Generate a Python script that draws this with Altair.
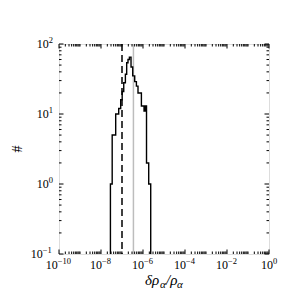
import altair as alt
import pandas as pd

# ---- data ----
BIN_EDGES = [2.81e-8, 3.41e-8, 5.01e-8, 6.97e-8, 8.67e-8, 1.02e-7, 1.21e-7, 1.45e-7,
             1.67e-7, 1.93e-7, 2.25e-7, 2.69e-7, 3.24e-7, 4.03e-7, 4.85e-7, 5.78e-7,
             8.39e-7, 1.12e-6, 1.27e-6, 1.47e-6, 1.87e-6, 2.33e-6]
COUNTS = [1, 5, 10, 12, 16, 21, 28, 37, 54, 60, 65, 47, 35, 29, 25, 20, 13, 11, 13, 2, 1]
DASHED_X = [1.0e-7]
GREY_X = [3.5e-7]

X_DOMAIN = [1e-10, 1.0]
Y_DOMAIN = [0.1, 100.0]
Y_FLOOR = 0.1  # zero counts drawn at the bottom of the log axis

X_MAJOR = [1e-10, 1e-8, 1e-6, 1e-4, 1e-2, 1.0]
X_EXP_TEXT = ["−10", "−8", "−6", "−4", "−2", "0"]
Y_MAJOR = [0.1, 1.0, 10.0, 100.0]
Y_EXP_TEXT = ["−1", "0", "1", "2"]
BASE_TEXT = "10"
X_MINOR = [m * 10.0 ** e for e in range(-10, 0) for m in range(2, 10)] + \
          [10.0 ** e for e in (-9, -7, -5, -3, -1)]
Y_MINOR = [m * 10.0 ** e for e in range(-1, 2) for m in range(2, 10)]

X_TITLE_PARTS = ["δρ", "α", "/ρ", "α"]
Y_TITLE = "#"

W, H = 210, 210
FONT = "Liberation Serif"
BASE_FS, EXP_FS = 12, 8.5

xscale = alt.Scale(type="log", domain=X_DOMAIN, nice=False)
yscale = alt.Scale(type="log", domain=Y_DOMAIN, nice=False)


def X(field):
    return alt.X(field, scale=xscale, axis=None)


def Y(field):
    return alt.Y(field, scale=yscale, axis=None)


# ---- histogram outline ----
xs = [BIN_EDGES[0]] + BIN_EDGES[:len(COUNTS)] + [BIN_EDGES[-1]]
ys = [Y_FLOOR] + COUNTS + [Y_FLOOR]
hist = pd.DataFrame({"x": xs, "y": ys, "o": list(range(len(xs)))})

line = alt.Chart(hist).mark_line(
    color="black", strokeWidth=1.4, interpolate="step-after").encode(
    x=X("x:Q"), y=Y("y:Q"), order="o:Q")

grey = alt.Chart(pd.DataFrame({"v": GREY_X})).mark_rule(
    color="#bdbdbd", strokeWidth=1.5).encode(x=X("v:Q"))
dashed = alt.Chart(pd.DataFrame({"v": DASHED_X})).mark_rule(
    color="black", strokeWidth=1.5, strokeDash=[7, 4]).encode(x=X("v:Q"))


# ---- inward ticks on all four sides ----
def xticks(vals, length):
    base = alt.Chart(pd.DataFrame({"v": vals})).mark_rule(color="black", strokeWidth=1)
    return [base.encode(x=X("v:Q"), y=alt.value(H), y2=alt.value(H - length)),
            base.encode(x=X("v:Q"), y=alt.value(0), y2=alt.value(length))]


def yticks(vals, length):
    base = alt.Chart(pd.DataFrame({"v": vals})).mark_rule(color="black", strokeWidth=1)
    return [base.encode(y=Y("v:Q"), x=alt.value(0), x2=alt.value(length)),
            base.encode(y=Y("v:Q"), x=alt.value(W), x2=alt.value(W - length))]


ticks = xticks(X_MAJOR, 4.5) + xticks(X_MINOR, 2.5) + yticks(Y_MAJOR, 4.5) + yticks(Y_MINOR, 2.5)


# ---- tick labels 10^n (base + raised exponent) ----
def est_w(s, fs):
    w = 0.0
    for ch in s:
        w += 0.70 * fs if ch == "−" else 0.5 * fs
    return w


label_layers = []
wb = est_w(BASE_TEXT, BASE_FS)
for v, e in zip(X_MAJOR, X_EXP_TEXT):
    we = est_w(e, EXP_FS)
    split = (wb - we) / 2.0
    df = pd.DataFrame({"v": [v], "b": [BASE_TEXT], "e": [e]})
    label_layers.append(alt.Chart(df).mark_text(
        font=FONT, fontSize=BASE_FS, align="right", baseline="alphabetic",
        color="black", dx=split, dy=0).encode(
        x=X("v:Q"), y=alt.value(H + 15), text="b:N"))
    label_layers.append(alt.Chart(df).mark_text(
        font=FONT, fontSize=EXP_FS, align="left", baseline="alphabetic",
        color="black", dx=split, dy=0).encode(
        x=X("v:Q"), y=alt.value(H + 10), text="e:N"))

for v, e in zip(Y_MAJOR, Y_EXP_TEXT):
    we = est_w(e, EXP_FS)
    df = pd.DataFrame({"v": [v], "b": [BASE_TEXT], "e": [e]})
    label_layers.append(alt.Chart(df).mark_text(
        font=FONT, fontSize=BASE_FS, align="right", baseline="alphabetic",
        color="black", dx=0, dy=4).encode(
        y=Y("v:Q"), x=alt.value(-6 - we), text="b:N"))
    label_layers.append(alt.Chart(df).mark_text(
        font=FONT, fontSize=EXP_FS, align="left", baseline="alphabetic",
        color="black", dx=0, dy=-1).encode(
        y=Y("v:Q"), x=alt.value(-6 - we), text="e:N"))

# ---- axis titles ----
sizes = [15, 11, 15, 11]
widths = [15.0, 6.0, 11.0, 6.0]
dys = [0, 3, 0, 3]
total = sum(widths)
cx = W / 2 - total / 2
title_layers = []
for part, sz, wd, dy in zip(X_TITLE_PARTS, sizes, widths, dys):
    title_layers.append(
        alt.Chart(pd.DataFrame({"t": [part]})).mark_text(
            font=FONT, fontSize=sz, fontStyle="italic", align="left",
            baseline="alphabetic", color="black", dy=dy).encode(
            text="t:N", x=alt.value(cx), y=alt.value(H + 31)))
    cx += wd

title_layers.append(
    alt.Chart(pd.DataFrame({"t": [Y_TITLE]})).mark_text(
        font=FONT, fontSize=14, angle=270, align="center", baseline="middle",
        color="black").encode(text="t:N", x=alt.value(-41), y=alt.value(H / 2)))

chart = alt.layer(grey, dashed, line, *ticks, *label_layers, *title_layers).properties(
    width=W, height=H, autosize=alt.AutoSizeParams(type="none"),
    padding={"left": 51, "top": 36, "right": 22, "bottom": 38}
).configure_view(stroke="black", strokeWidth=1.5).configure(background="white")

chart.save("out.html", embed_options={"renderer": "svg", "actions": False})
